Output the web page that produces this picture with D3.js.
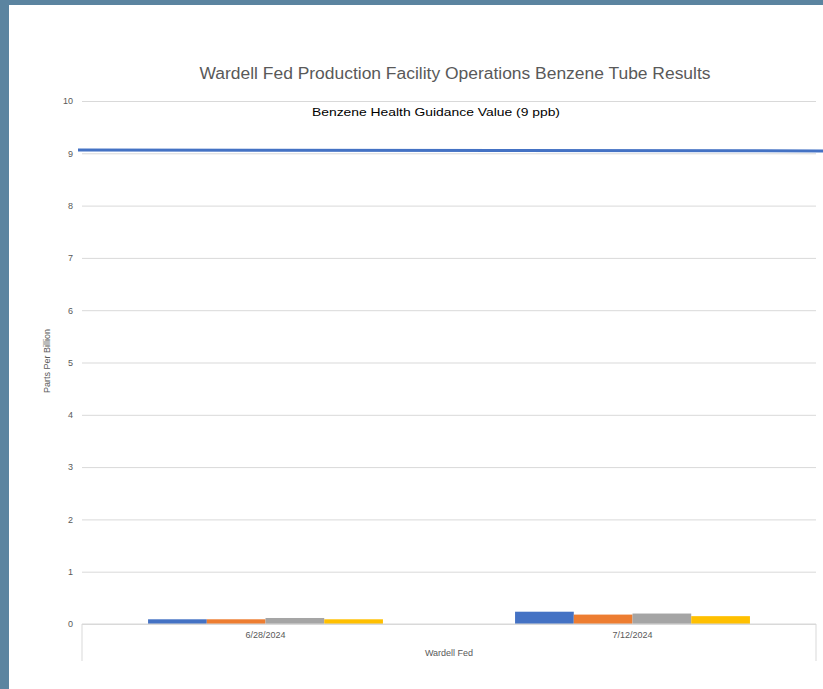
<!DOCTYPE html>
<html lang="en">
<head>
	<meta charset="utf-8">
	<title>Benzene Tube Results</title>
	<script src="https://d3js.org/d3.v7.min.js"></script>
	<style type="text/css">
		body { margin: 0; background: #5b84a0; }
		svg { display: block; }
		text { font-family: "Liberation Sans", Arial, sans-serif; }
	</style>
</head>
<body>
	<script type="text/javascript">
	// data
	var categories = ["6/28/2024", "7/12/2024"]
	var groupLabel = "Wardell Fed"
	var seriesNames = ["Tube 1", "Tube 2", "Tube 3", "Tube 4"]
	var series1 = [0.09, 0.235]
	var series2 = [0.09, 0.18]
	var series3 = [0.115, 0.20]
	var series4 = [0.09, 0.15]
	var yTicks = [0, 1, 2, 3, 4, 5, 6, 7, 8, 9, 10]
	var guidanceLine = [9.065, 9.045]   // start / end of the drawn 9 ppb line

	var colors = ["#4472c4", "#ed7d31", "#a5a5a5", "#ffc000"]
	var gridGray = "#d9d9d9"
	var textGray = "#595959"

	var w = 823, h = 689
	// plot edges (note: "top" is reserved on window, so prefix these)
	var plotL = 82, plotR = 816, plotT = 101, plotB = 624

	var svg = d3.select("body").append("svg")
		.attr("width", w)
		.attr("height", h)

	// white chart area inside the blue frame
	svg.append("rect")
		.attr("x", 9).attr("y", 5)
		.attr("width", w - 9).attr("height", h - 5)
		.attr("fill", "#fff")

	var yScale = d3.scaleLinear().domain([0, 10]).range([plotB, plotT])
	var xScale = d3.scaleBand().domain(categories).range([plotL, plotR])
	var groupW = xScale.bandwidth() * 0.64
	var xSub = d3.scaleBand().domain(seriesNames).range([0, groupW])

	// gridlines + y labels
	var yAxis = d3.axisLeft(yScale).tickValues(yTicks).tickSize(-(plotR - plotL)).tickPadding(9)
	var gy = svg.append("g")
		.attr("transform", "translate(" + plotL + ",0)")
		.call(yAxis)
	gy.select(".domain").remove()
	gy.selectAll(".tick line").attr("stroke", gridGray).attr("stroke-width", 1)
	gy.selectAll(".tick text")
		.attr("fill", textGray)
		.style("font-size", "9px")

	// bars
	var table = categories.map(function(c, i) {
		return { cat: c, values: [series1[i], series2[i], series3[i], series4[i]] }
	})
	svg.append("g").selectAll("g")
		.data(table)
		.join("g")
		.attr("transform", d => "translate(" + (xScale(d.cat) + (xScale.bandwidth() - groupW) / 2) + ",0)")
		.selectAll("rect")
		.data(d => d.values.map((v, j) => ({ name: seriesNames[j], v: v, j: j })))
		.join("rect")
		.attr("x", d => xSub(d.name))
		.attr("width", xSub.bandwidth())
		.attr("y", d => yScale(d.v))
		.attr("height", d => plotB - yScale(d.v))
		.attr("fill", d => colors[d.j])

	// category axis box (multi level)
	var ax = svg.append("g").attr("stroke", gridGray).attr("fill", "none")
	ax.append("line").attr("x1", plotL).attr("x2", plotR).attr("y1", plotB).attr("y2", plotB)
	ax.append("line").attr("x1", plotL).attr("x2", plotL).attr("y1", plotB).attr("y2", 661)
	ax.append("line").attr("x1", plotR).attr("x2", plotR).attr("y1", plotB).attr("y2", 661)

	svg.append("g").selectAll("text")
		.data(categories)
		.join("text")
		.attr("x", d => xScale(d) + xScale.bandwidth() / 2)
		.attr("y", 638)
		.attr("text-anchor", "middle")
		.attr("fill", textGray)
		.style("font-size", "9px")
		.text(d => d)

	svg.append("text")
		.attr("x", (plotL + plotR) / 2)
		.attr("y", 656)
		.attr("text-anchor", "middle")
		.attr("fill", textGray)
		.style("font-size", "9px")
		.text(groupLabel)

	// y axis title
	svg.append("text")
		.attr("transform", "translate(50,361) rotate(-90)")
		.attr("text-anchor", "middle")
		.attr("fill", textGray)
		.style("font-size", "9px")
		.text("Parts Per Billion")

	// title
	svg.append("text")
		.attr("x", 455)
		.attr("y", 79)
		.attr("text-anchor", "middle")
		.attr("fill", textGray)
		.attr("textLength", 511)
		.attr("lengthAdjust", "spacingAndGlyphs")
		.style("font-size", "16px")
		.text("Wardell Fed Production Facility Operations Benzene Tube Results")

	// guidance value line (9 ppb)
	var lineX = d3.scaleLinear().domain([0, 1]).range([78, w])
	var guide = d3.line()
		.x((d, i) => lineX(i))
		.y(d => yScale(d))
	svg.append("path")
		.attr("d", guide(guidanceLine))
		.attr("stroke", "#4472c4")
		.attr("stroke-width", 3)
		.attr("fill", "none")

	svg.append("text")
		.attr("x", 436)
		.attr("y", 116)
		.attr("text-anchor", "middle")
		.attr("fill", "#000")
		.attr("textLength", 248)
		.attr("lengthAdjust", "spacingAndGlyphs")
		.style("font-size", "11.5px")
		.text("Benzene Health Guidance Value (9 ppb)")
	</script>
</body>
</html>
